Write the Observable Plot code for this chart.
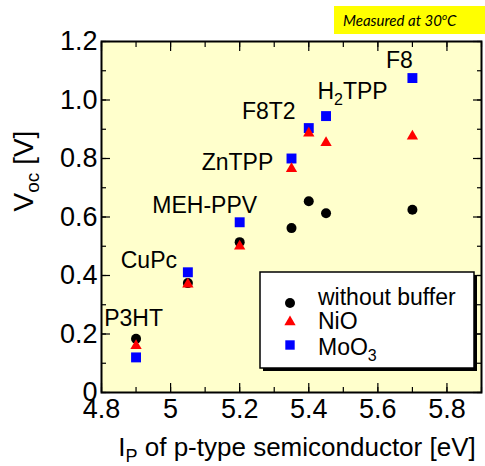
<!DOCTYPE html>
<html>
<head>
<meta charset="utf-8">
<script src="https://cdn.jsdelivr.net/npm/d3@7"></script>
<script src="https://cdn.jsdelivr.net/npm/@observablehq/plot@0.6"></script>
<style>
  html, body { margin: 0; padding: 0; background: #ffffff; }
  #wrap { position: relative; width: 485px; height: 466px; font-family: "Liberation Sans", Arial, sans-serif; }
  #note { position: absolute; left: 334px; top: 6px; width: 151px; height: 28px; background: #ffff00;
          font-family: Lato, "Open Sans", sans-serif; font-style: italic; font-weight: 400; font-size: 15px; line-height: 28px;
          box-sizing: border-box; padding-left: 9px; color: #000; white-space: nowrap; }
  #note sup { font-size: 10px; vertical-align: 6px; line-height: 0; }
</style>
</head>
<body>
<div id="wrap">
  <div id="chart"></div>
  <div id="note">Measured at 30<sup>o</sup>C</div>
</div>
<script>
// ---- data ----
const materials  = ["P3HT", "CuPc", "MEH-PPV", "ZnTPP", "F8T2", "H2TPP", "F8"];
const ip         = [4.9, 5.05, 5.2, 5.35, 5.4, 5.45, 5.7];
const vocWithout = [0.184, 0.374, 0.514, 0.562, 0.654, 0.613, 0.625];
const vocNiO     = [0.16, 0.37, 0.50, 0.765, 0.886, 0.854, 0.876];
const vocMoO3    = [0.12, 0.411, 0.582, 0.80, 0.904, 0.945, 1.075];
const seriesNames = ["without buffer", "NiO", "MoO3"];
const xTickLabels = [4.8, 5, 5.2, 5.4, 5.6, 5.8];
const yTickLabels = [0, 0.2, 0.4, 0.6, 0.8, 1.0, 1.2];

// ---- layout / style (not data) ----
const labelDx = [-2.5, -39, -35, -54, -40, 26.5, -13];
const labelDy = [-20, -12, -17, 4, -16, -24, -17];
const seriesColors = ["#000000", "#ff0000", "#0000ff"];

const xMinor = d3.range(48, 60).map(d => d / 10);
const yMinor = d3.range(0, 13).map(d => d / 10);

const rows = (vals) => ip.map((x, i) => ({x, y: vals[i], name: materials[i]}));
const fmtX = d => String(+d.toFixed(1));
const fmtY = d => d === 0 ? "0" : d.toFixed(1);
const blank = () => "";

const labelMarks = materials.map((m, i) => Plot.text([i], {
  x: j => ip[j],
  y: j => Math.max(vocWithout[j], vocNiO[j], vocMoO3[j]),
  text: j => materials[j],
  dx: labelDx[i], dy: labelDy[i],
  fontSize: 23, fill: "#000", textAnchor: "middle", lineAnchor: "middle"
}));

const chart = Plot.plot({
  width: 485, height: 466,
  marginLeft: 101, marginRight: 4, marginTop: 41, marginBottom: 74,
  x: {domain: [4.8, 5.9]},
  y: {domain: [0, 1.2]},
  style: {fontFamily: "'Liberation Sans', Arial, sans-serif", color: "#000", background: "transparent", overflow: "visible"},
  marks: [
    Plot.frame({fill: "#ffffcc", stroke: null}),
    // inward minor ticks
    Plot.axisX(xMinor, {anchor: "bottom", tickSize: -5, tickPadding: 0, tickFormat: blank, label: null, strokeWidth: 1.2}),
    Plot.axisX(xMinor, {anchor: "top", tickSize: -5, tickPadding: 0, tickFormat: blank, label: null, strokeWidth: 1.2}),
    Plot.axisY(yMinor, {anchor: "left", tickSize: -5, tickPadding: 0, tickFormat: blank, label: null, strokeWidth: 1.2}),
    Plot.axisY(yMinor, {anchor: "right", tickSize: -5, tickPadding: 0, tickFormat: blank, label: null, strokeWidth: 1.2}),
    // inward major ticks
    Plot.axisX(xTickLabels, {anchor: "bottom", tickSize: -9, tickPadding: 0, tickFormat: blank, label: null, strokeWidth: 1.2}),
    Plot.axisX(xTickLabels, {anchor: "top", tickSize: -9, tickPadding: 0, tickFormat: blank, label: null, strokeWidth: 1.2}),
    Plot.axisY(yTickLabels, {anchor: "left", tickSize: -9, tickPadding: 0, tickFormat: blank, label: null, strokeWidth: 1.2}),
    Plot.axisY(yTickLabels, {anchor: "right", tickSize: -9, tickPadding: 0, tickFormat: blank, label: null, strokeWidth: 1.2}),
    // tick labels
    Plot.axisX(xTickLabels, {anchor: "bottom", tickSize: 0, tickPadding: 6, tickFormat: fmtX, label: null, fontSize: 27}),
    Plot.axisY(yTickLabels, {anchor: "left", tickSize: 0, tickPadding: 4, tickFormat: fmtY, label: null, fontSize: 27}),
    Plot.frame({stroke: "#000", strokeWidth: 2}),
    // data
    Plot.dot(rows(vocWithout), {x: "x", y: "y", r: 5, symbol: "circle", fill: seriesColors[0]}),
    Plot.dot(rows(vocMoO3), {x: "x", y: "y", r: 5.6, symbol: "square", fill: seriesColors[2]}),
    Plot.dot(rows(vocNiO), {x: "x", y: "y", r: 4.2, symbol: "triangle", fill: seriesColors[1]}),
    ...labelMarks
  ]
});
document.getElementById("chart").appendChild(chart);

const svg = d3.select(chart);

// H2TPP label subscript
svg.selectAll("text").filter(function() { return this.textContent === "H2TPP"; }).each(function() {
  const t = d3.select(this);
  t.text(null);
  t.append("tspan").text("H");
  t.append("tspan").attr("font-size", 16).attr("dy", 6).text("2");
  t.append("tspan").attr("dy", -6).text("TPP");
});

// axis titles
const yl = svg.append("text")
  .attr("transform", "translate(33,171) rotate(-90)")
  .attr("text-anchor", "middle").attr("font-size", 28).attr("fill", "#000");
yl.append("tspan").text("V");
yl.append("tspan").attr("font-size", 19).attr("dy", 6).text("oc");
yl.append("tspan").attr("dy", -6).text(" [V]");

const xl = svg.append("text")
  .attr("x", 297).attr("y", 456)
  .attr("text-anchor", "middle").attr("font-size", 26).attr("fill", "#000");
xl.append("tspan").text("I");
xl.append("tspan").attr("font-size", 18).attr("dy", 6).text("P");
xl.append("tspan").attr("dy", -6).text(" of p-type semiconductor [eV]");

// legend
const lg = svg.append("g").attr("text-anchor", "start");
lg.append("rect").attr("x", 263).attr("y", 275).attr("width", 214).attr("height", 96).attr("fill", "#000");
lg.append("rect").attr("x", 260).attr("y", 272).attr("width", 214).attr("height", 96)
  .attr("fill", "#fff").attr("stroke", "#000").attr("stroke-width", 1.5);
const legendSymbols = [d3.symbolCircle, d3.symbolTriangle, d3.symbolSquare];
const legendSizes = [Math.PI * 25, Math.PI * 4.2 * 4.2, Math.PI * 5.3 * 5.3];
const markerY = [303, 322, 345];
const textY = [305, 329, 355];
seriesNames.forEach((name, i) => {
  lg.append("path").attr("d", d3.symbol(legendSymbols[i], legendSizes[i])())
    .attr("transform", `translate(290,${markerY[i]})`).attr("fill", seriesColors[i]);
  const t = lg.append("text").attr("x", 318).attr("y", textY[i]).attr("font-size", 23)
    .attr("fill", "#000").attr("text-anchor", "start");
  if (name === "MoO3") {
    t.append("tspan").text("MoO");
    t.append("tspan").attr("font-size", 16).attr("dy", 6).text("3");
  } else t.text(name);
});
</script>
</body>
</html>
